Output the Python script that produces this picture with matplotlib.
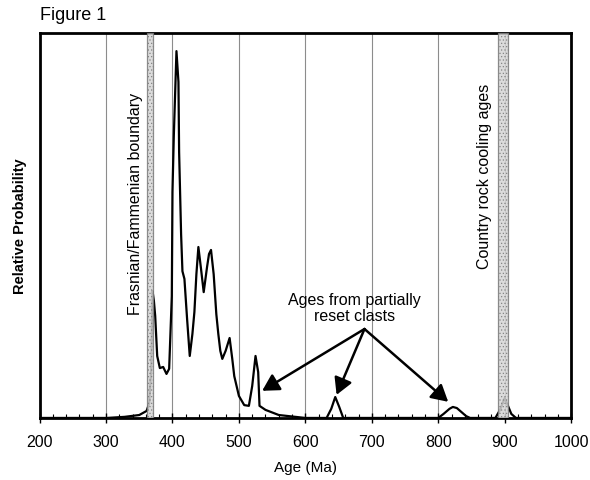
import matplotlib
matplotlib.use("Agg")
import matplotlib.pyplot as plt
from matplotlib.ticker import MultipleLocator

plt.rcParams['font.family'] = ['Liberation Sans', 'DejaVu Sans']
plt.rcParams['hatch.color'] = '#9a9a9a'
plt.rcParams['hatch.linewidth'] = 0.5

# probability density curve (age in Ma, relative probability)
ages = [200, 290, 301, 328, 350, 361, 365, 368, 370, 372, 374, 377, 381, 386, 391, 395,
        399, 400, 402, 406, 409, 410, 413, 415, 418, 422, 426, 430, 433, 436, 439, 443,
        447, 452, 455, 458, 462, 466, 469, 472, 475, 480, 486, 490, 493, 500, 508, 515,
        520, 525, 529, 531, 540, 560, 585, 600, 632, 639, 645, 651, 657, 800, 808, 817,
        822, 828, 835, 842, 848, 886, 893, 900, 905, 910, 917, 1000]
prob = [0, 0, 0, 0.003, 0.008, 0.019, 0.04, 0.134, 0.346, 0.32, 0.278, 0.169, 0.136, 0.139, 0.12, 0.134,
        0.332, 0.616, 0.768, 1.0, 0.916, 0.725, 0.50, 0.40, 0.379, 0.27, 0.169, 0.229, 0.289, 0.392, 0.466, 0.406,
        0.343, 0.411, 0.447, 0.458, 0.392, 0.283, 0.229, 0.183, 0.161, 0.183, 0.218, 0.161, 0.114, 0.06, 0.035, 0.033,
        0.087, 0.169, 0.125, 0.033, 0.022, 0.008, 0.003, 0, 0, 0.025, 0.057, 0.03, 0, 0, 0.011, 0.025,
        0.03, 0.027, 0.016, 0.005, 0, 0, 0.022, 0.054, 0.033, 0.011, 0, 0]

# shaded age bands (Ma)
frasnian_band = (362, 371)
country_band = (890, 905)

# annotation arrows: origin and the three targets
arrow_origin = (689, 0.2425)
arrow_targets = [(535, 0.074), (647, 0.063), (815, 0.044)]

xticks = [200, 300, 400, 500, 600, 700, 800, 900, 1000]

fig = plt.figure(figsize=(5.9, 4.81), dpi=100)
ax = fig.add_axes([0.0671, 0.129, 0.9009, 0.800])

ax.set_xlim(200, 1000)
ax.set_ylim(0, 1.049)

for x in xticks[1:-1]:
    ax.axvline(x, color='#8c8c8c', lw=0.8, zorder=1)

ax.plot(ages, prob, color='black', lw=1.6, zorder=2)

for lo, hi in (frasnian_band, country_band):
    ax.axvspan(lo, hi, facecolor='#d6d6d6', edgecolor='#7a7a7a', lw=0.9,
               alpha=0.85, hatch='.....', zorder=3)

ax.text(345, 0.585, 'Frasnian/Fammenian boundary', rotation=90, ha='center',
        va='center', fontsize=11.5)
ax.text(869, 0.66, 'Country rock cooling ages', rotation=90, ha='center',
        va='center', fontsize=11.5)
ax.text(674, 0.26, 'Ages from partially\nreset clasts', ha='center', va='bottom',
        fontsize=11.5, linespacing=1.05)

for tx, ty in arrow_targets:
    ax.annotate('', xy=(tx, ty), xytext=arrow_origin,
                arrowprops=dict(arrowstyle='-|>,head_length=0.5,head_width=0.28',
                                color='black', lw=1.8,
                                mutation_scale=20, shrinkA=0, shrinkB=0),
                zorder=4)

ax.set_xticks(xticks)
ax.xaxis.set_minor_locator(MultipleLocator(20))
ax.tick_params(axis='x', which='major', direction='inout', length=7, width=1,
               labelsize=11.5, pad=8)
ax.tick_params(axis='x', which='minor', direction='in', length=3, width=0.8)
ax.set_yticks([])

for s in ax.spines.values():
    s.set_linewidth(2)

ax.set_xlabel('Age (Ma)', fontsize=11, labelpad=8)
ax.set_ylabel('Relative Probability', fontsize=10.5, fontweight='bold', labelpad=9)

fig.text(0.068, 0.968, 'Figure 1', fontsize=13, ha='left', va='center')

fig.savefig('out.png', dpi=100)
